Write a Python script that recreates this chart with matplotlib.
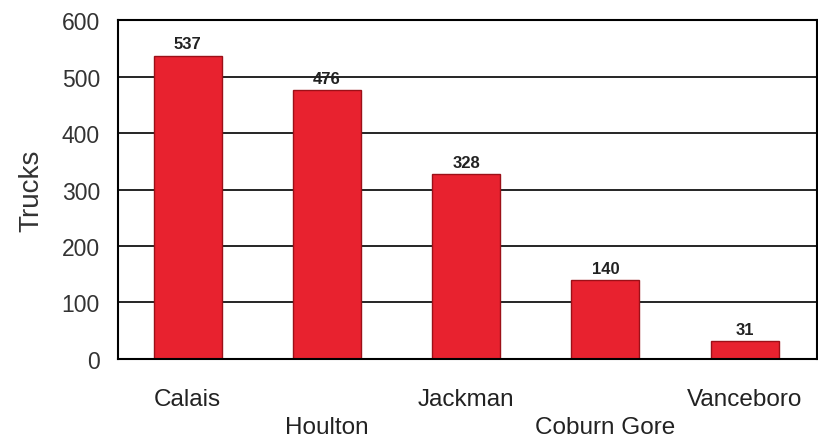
import matplotlib.pyplot as plt

crossings = ["Calais", "Houlton", "Jackman", "Coburn Gore", "Vanceboro"]
trucks = [537, 476, 328, 140, 31]
y_ticks = [0, 100, 200, 300, 400, 500, 600]

plt.rcParams['font.family'] = ['Liberation Sans', 'DejaVu Sans']

fig = plt.figure(figsize=(8.18, 4.39), dpi=100)
ax = fig.add_axes([0.1443, 0.18, 0.8545, 0.772])

ax.set_axisbelow(True)
ax.yaxis.grid(True, color="black", linewidth=1.2)

x = range(len(crossings))
bars = ax.bar(x, trucks, width=0.49, color="#e8222f", edgecolor="#9c1018", linewidth=1.0)

for b, v in zip(bars, trucks):
    ax.annotate(str(v), (b.get_x() + b.get_width() / 2, v), xytext=(0, 3),
                textcoords="offset points", ha="center", va="bottom",
                fontsize=12, fontweight="bold", color="#222222")

ax.set_xlim(-0.5, 4.52)
ax.set_ylim(0, 600)
ax.set_yticks(y_ticks)
ax.tick_params(axis="y", length=0, pad=13, labelsize=16.5, labelcolor="#333333")
ax.set_xticks(list(x))
ax.set_xticklabels(crossings)
ax.tick_params(axis="x", length=0, pad=21, labelsize=17.5, labelcolor="#222222")
# stagger the category labels so the long names don't collide
for tick in ax.xaxis.get_major_ticks()[1::2]:
    tick.set_pad(41)

ax.set_ylabel("Trucks", fontsize=20, color="#333333")
ax.yaxis.set_label_coords(-0.106, 0.5)

for s in ax.spines.values():
    s.set_linewidth(1.5)
    s.set_color("black")

fig.savefig("out.png", dpi=100)
